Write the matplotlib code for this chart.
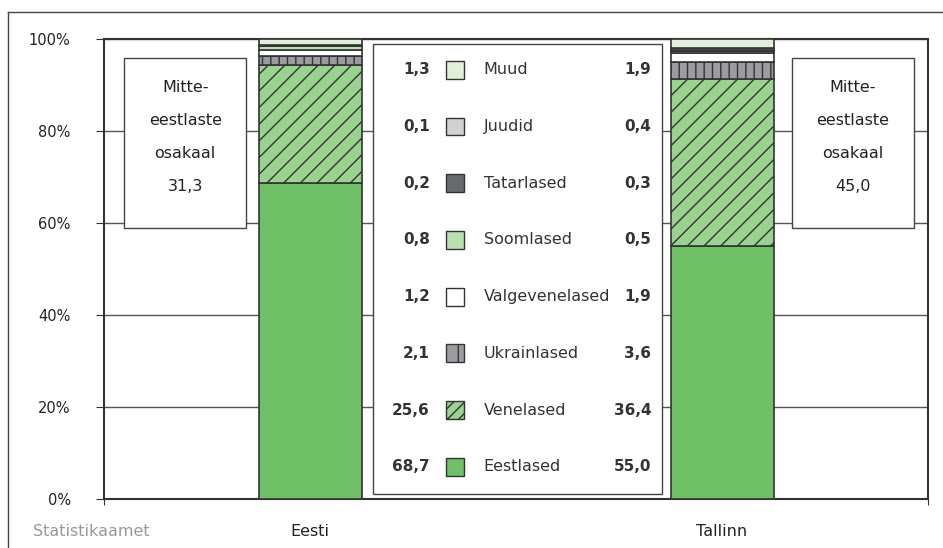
import matplotlib.pyplot as plt
from matplotlib.patches import Rectangle

plt.rcParams['font.family'] = ['DejaVu Sans']
plt.rcParams['hatch.linewidth'] = 1.0

regions = ["Eesti", "Tallinn"]
groups = ["Eestlased", "Venelased", "Ukrainlased", "Valgevenelased",
          "Soomlased", "Tatarlased", "Juudid", "Muud"]
eesti = [68.7, 25.6, 2.1, 1.2, 0.8, 0.2, 0.1, 1.3]
tallinn = [55.0, 36.4, 3.6, 1.9, 0.5, 0.3, 0.4, 1.9]
eesti_txt = ["68,7", "25,6", "2,1", "1,2", "0,8", "0,2", "0,1", "1,3"]
tallinn_txt = ["55,0", "36,4", "3,6", "1,9", "0,5", "0,3", "0,4", "1,9"]
non_est = ["31,3", "45,0"]

colors = ["#6fc066", "#9ad38f", "#9a9ca0", "#ffffff",
          "#b8e0ae", "#68696c", "#d0d1d3", "#e0f0da"]
hatches = [None, "//", "||", None, None, None, None, None]
key_hatches = [None, "///", "|", None, None, None, None, None]
edge = "#333333"

fig = plt.figure(figsize=(9.43, 5.48), dpi=100)
ax = fig.add_axes([104 / 943, 1 - 499 / 548, 824 / 943, 460 / 548])

xs = [0, 1]
bottoms = [0, 0]
for i, g in enumerate(groups):
    vals = [eesti[i], tallinn[i]]
    ax.bar(xs, vals, width=0.25, bottom=bottoms, color=colors[i],
           edgecolor=edge, linewidth=1.2, hatch=hatches[i], zorder=3)
    bottoms = [bottoms[0] + vals[0], bottoms[1] + vals[1]]

ax.set_xlim(-0.5, 1.5)
ax.set_ylim(0, 100)
ax.set_yticks(range(0, 101, 20))
ax.set_yticklabels([f"{v}%" for v in range(0, 101, 20)], fontsize=10.5, color="#222222")
ax.yaxis.grid(True, color="#555555", linewidth=1.0, zorder=0)
ax.set_axisbelow(True)
ax.tick_params(axis="y", length=6, color="#333333", pad=18)
ax.set_xticks([-0.5, 1.5])
ax.set_xticklabels([])
ax.tick_params(axis="x", length=4, color="#333333")
for x, r in zip(xs, regions):
    ax.text(x, -7, r, ha="center", va="center", fontsize=11.5, color="#222222")
for s in ax.spines.values():
    s.set_color("#333333")
    s.set_linewidth(1.5)

# legend box in the middle
ax.add_patch(Rectangle((0.153, 1.1), 0.701, 97.8, facecolor="white",
                       edgecolor="#444444", linewidth=1.0, zorder=4))
row_y = [7.0 + 12.33 * k for k in range(8)]
for i, g in enumerate(groups):
    y = row_y[i]
    ax.text(0.291, y, eesti_txt[i], ha="right", va="center", fontsize=11,
            fontweight="bold", color="#333333", zorder=5)
    ax.add_patch(Rectangle((0.330, y - 1.95), 0.044, 3.9, facecolor=colors[i],
                           edgecolor=edge, linewidth=1.0,
                           hatch=key_hatches[i], zorder=5))
    ax.text(0.422, y, g, ha="left", va="center", fontsize=11.5,
            color="#333333", zorder=5)
    ax.text(0.828, y, tallinn_txt[i], ha="right", va="center", fontsize=11,
            fontweight="bold", color="#333333", zorder=5)

# side boxes with share of non-Estonians
for bx, val in zip([-0.451, 1.170], non_est):
    ax.add_patch(Rectangle((bx, 58.9), 0.296, 37.0, facecolor="white",
                           edgecolor="#444444", linewidth=1.0, zorder=4))
    ax.text(bx + 0.148, 78.6, f"Mitte-\neestlaste\nosakaal\n{val}", ha="center",
            va="center", fontsize=11.5, linespacing=2.5, color="#222222", zorder=5)

fig.text(33 / 943, 1 - 531 / 548, "Statistikaamet", ha="left", va="center",
         fontsize=11.5, color="#999999")

# outer frame
fig.add_artist(plt.Line2D([8 / 943, 8 / 943], [0, 1 - 12 / 548],
                          transform=fig.transFigure, color="#444444", linewidth=1.0))
fig.add_artist(plt.Line2D([8 / 943, 1], [1 - 12 / 548, 1 - 12 / 548],
                          transform=fig.transFigure, color="#444444", linewidth=1.0))

fig.savefig("out.png", dpi=100)
